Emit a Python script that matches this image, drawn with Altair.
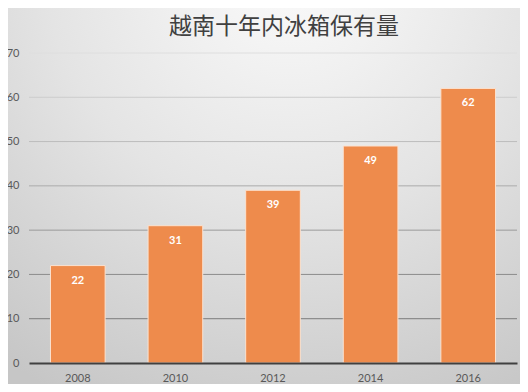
import altair as alt
import pandas as pd

title_text = "越南十年内冰箱保有量"
years = ["2008", "2010", "2012", "2014", "2016"]
values = [22, 31, 39, 49, 62]
grid_values = [10, 20, 30, 40, 50, 60, 70]

df = pd.DataFrame({"year": years, "value": values})
grid_df = pd.DataFrame({"g": grid_values})

W, H = 488, 310
PAD = {"left": 21, "top": 45, "right": 3, "bottom": 21}

bg = alt.Chart(pd.DataFrame({"a": [0]})).mark_rect(
    fill=alt.Gradient(
        gradient="radial",
        x1=0.55, y1=0.05, r1=0.0,
        x2=0.55, y2=0.05, r2=0.95,
        stops=[
            alt.GradientStop(color="#fbfbfb", offset=0),
            alt.GradientStop(color="#e4e4e4", offset=0.5),
            alt.GradientStop(color="#c6c6c6", offset=1),
        ],
    )
).encode(
    x=alt.value(-PAD["left"]), x2=alt.value(W + PAD["right"]),
    y=alt.value(-PAD["top"]), y2=alt.value(H + PAD["bottom"]),
)

title = alt.Chart(pd.DataFrame({"t": [title_text]})).mark_text(
    font="Noto Sans CJK SC", fontSize=23, color="#404040", baseline="middle", align="center"
).encode(x=alt.value(W / 2 + 11), y=alt.value(-26), text="t:N")

grid = alt.Chart(grid_df).mark_rule(strokeWidth=1).encode(
    y=alt.Y("g:Q", scale=alt.Scale(domain=[0, 70])),
    stroke=alt.Stroke("g:Q", scale=alt.Scale(domain=[10, 70], range=["#7c7c7c", "#dedede"]), legend=None),
)

x_enc = alt.X(
    "year:N",
    sort=years,
    scale=alt.Scale(paddingInner=0.44, paddingOuter=0.22),
    axis=alt.Axis(
        title=None, labelAngle=0, ticks=False, domain=True, domainColor="#404040",
        domainWidth=2, labelPadding=9, labelColor="#595959", labelFontSize=11,
        labelFont="Lato", grid=False, zindex=2,
    ),
)
y_enc = alt.Y(
    "value:Q",
    scale=alt.Scale(domain=[0, 70]),
    axis=alt.Axis(
        title=None, values=[0, 10, 20, 30, 40, 50, 60, 70], ticks=False, domain=False,
        grid=False, labelPadding=10, labelColor="#595959", labelFontSize=11, labelFont="Lato",
        zindex=2,
    ),
)

bars = alt.Chart(df).mark_bar(color="#ee8b4c", stroke="#fbe2d0", strokeWidth=1).encode(
    x=x_enc, y=y_enc
)

labels = alt.Chart(df).mark_text(
    color="white", fontWeight="bold", fontSize=11, font="Lato", baseline="middle", dy=15
).encode(x=alt.X("year:N", sort=years), y="value:Q", text="value:Q")

chart = alt.layer(bg, title, grid, bars, labels).properties(
    width=W,
    height=H,
    autosize=alt.AutoSizeParams(type="none"),
    padding=PAD,
).configure_view(stroke=None).configure(background="#d8d8d8")

chart.save("out.html", embed_options={"renderer": "svg", "actions": False})
